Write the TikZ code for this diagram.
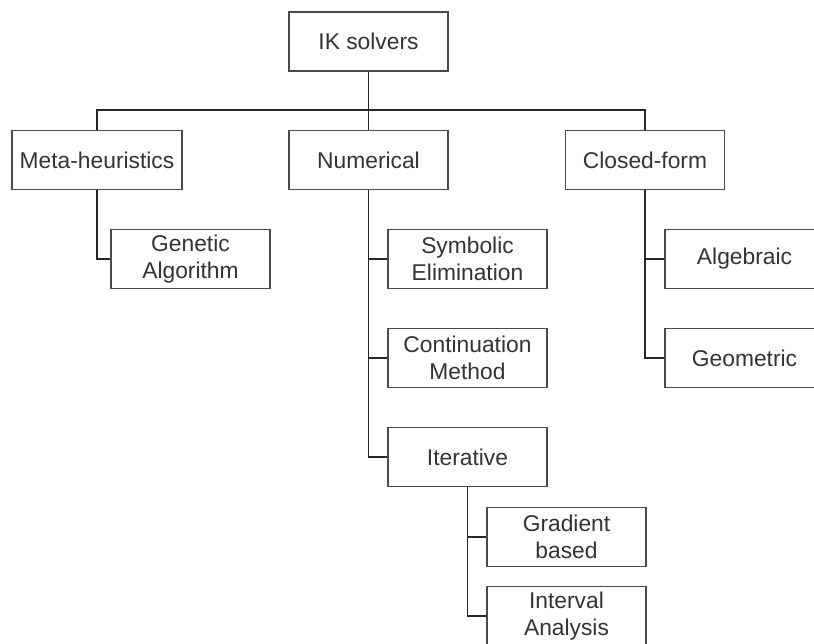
\documentclass[tikz,border=0pt]{standalone}
\usepackage{fontspec}
\setmainfont{Liberation Sans}
\usepackage{tikz}
\usepackage{xcolor}
\usetikzlibrary{positioning}

\definecolor{boxline}{HTML}{4A4A4A}
\definecolor{boxtext}{HTML}{333333}

\begin{document}
\begin{tikzpicture}[x=1pt, y=-1pt,
        box/.style={draw=boxline, line width=1.9pt, rectangle, minimum width=159pt, minimum height=59pt,
            align=center, text=boxtext, font=\fontsize{22.8}{27}\selectfont, inner sep=0pt},
        link/.style={draw=black!85, line width=1.6pt}]
        \clip (0,0) rectangle (814,643);
        \fill[white] (0,0) rectangle (814,643);

        % top level
        \node[box] (root) at (368.5, 41.5) {IK solvers};
        \node[box, minimum width=170pt] (meta) at (97, 160) {Meta-heuristics};
        \node[box] (num) at (368.5, 160) {Numerical};
        \node[box] (closed) at (645, 160) {Closed-form};
        \coordinate (bus) at (368.5, 110);

        % second level
        \node[box] (ga) at (190.5, 259) {Genetic\\Algorithm};
        \node[box] (sym) at (467.5, 259) {Symbolic\\Elimination};
        \node[box] (cont) at (467.5, 358) {Continuation\\Method};
        \node[box] (iter) at (467.5, 457) {Iterative};
        \node[box] (alg) at (744.5, 259) {Algebraic};
        \node[box] (geo) at (744.5, 358) {Geometric};

        % third level
        \node[box] (grad) at (566.5, 537) {Gradient\\based};
        \node[box] (interv) at (566.5, 616) {Interval\\Analysis};

        \draw[link] (root.south) -- (num.north);
        \draw[link] (meta.north) |- (bus) -| (closed.north);
        \draw[link] (meta.south) |- (ga.west);
        \foreach \n in {sym, cont, iter} {
            \draw[link] (num.south) |- (\n.west);
        }
        \foreach \n in {alg, geo} {
            \draw[link] (closed.south) |- (\n.west);
        }
        \foreach \n in {grad, interv} {
            \draw[link] (iter.south) |- (\n.west);
        }
    \end{tikzpicture}
\end{document}
